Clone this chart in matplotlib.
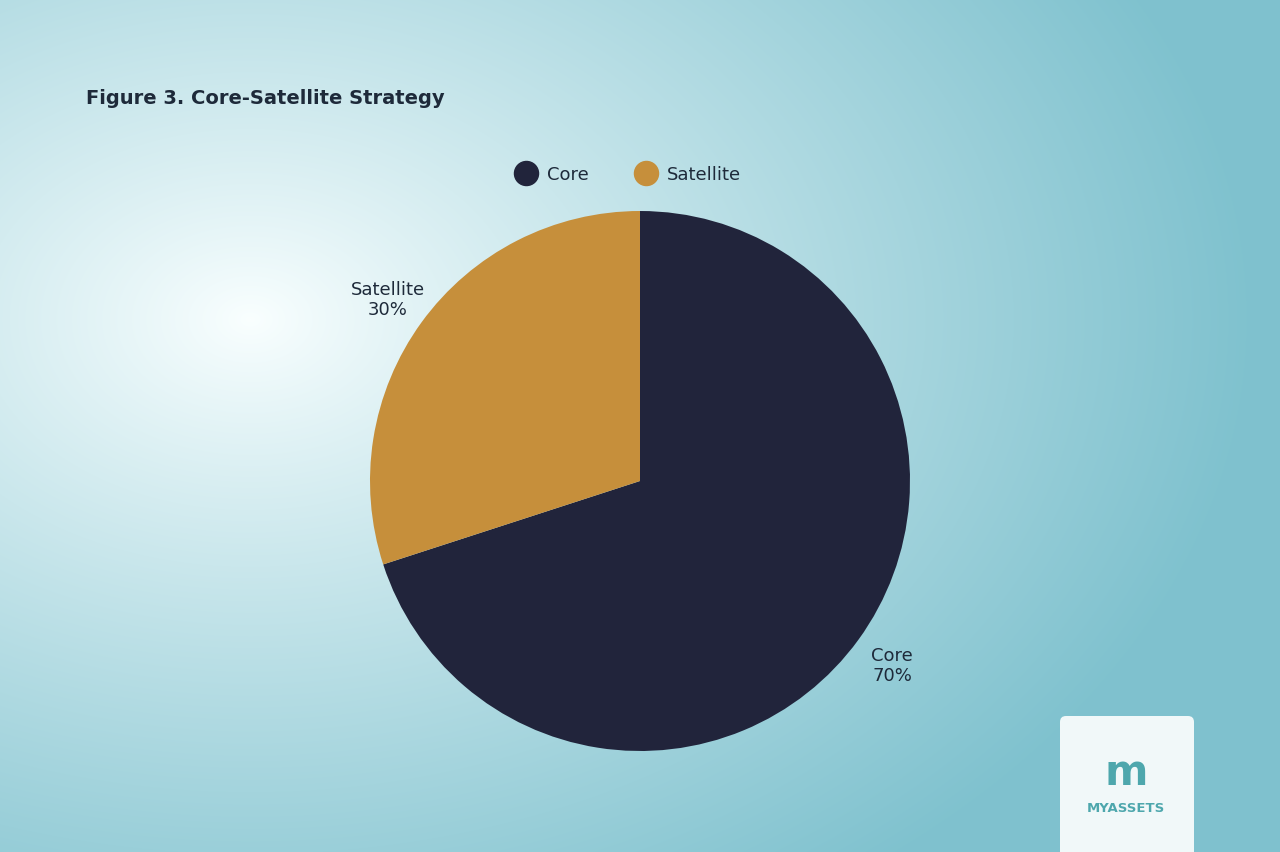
import numpy as np
import matplotlib.pyplot as plt
from matplotlib.patches import FancyBboxPatch

labels = ['Core', 'Satellite']
shares = [70, 30]
colors = ['#21243b', '#c68f3b']

W, H = 1280, 853
fig = plt.figure(figsize=(12.8, 8.53), dpi=100)

# background gradient: bright spot on left, teal towards right
bg = fig.add_axes([0, 0, 1, 1])
yy, xx = np.mgrid[0:H, 0:W]
d = np.sqrt(((xx - 250) / 1000.0) ** 2 + ((yy - 320) / 700.0) ** 2)
t = np.clip(d, 0, 1) ** 0.9
white = np.array([0.98, 1.0, 1.0])
teal = np.array([0.50, 0.76, 0.81])
img = white[None, None, :] * (1 - t[..., None]) + teal[None, None, :] * t[..., None]
bg.imshow(img, extent=[0, W, H, 0], aspect='auto')
bg.set_xlim(0, W)
bg.set_ylim(H, 0)
bg.axis('off')

fig.text(86 / W, 1 - 98 / H, 'Figure 3. Core-Satellite Strategy', fontsize=14,
         fontweight='bold', color='#1e2a3a', va='center')

# pie
r = 270
ax = fig.add_axes([(640 - r) / W, (H - 482 - r) / H, 2 * r / W, 2 * r / H])
ax.pie(shares, colors=colors, startangle=90, counterclock=False,
       radius=1.0, wedgeprops=dict(linewidth=0))
ax.set_xlim(-1, 1)
ax.set_ylim(-1, 1)
ax.set_aspect('auto')
ax.axis('off')

fig.text(892 / W, 1 - 666 / H, f'{labels[0]}\n{shares[0]}%', ha='center', va='center',
         fontsize=13, color='#1e2a3a', linespacing=1.1)
fig.text(388 / W, 1 - 300 / H, f'{labels[1]}\n{shares[1]}%', ha='center', va='center',
         fontsize=13, color='#1e2a3a', linespacing=1.1)

# legend
for x, lab, c in [(526, labels[0], colors[0]), (646, labels[1], colors[1])]:
    bg.scatter([x], [174], s=300, color=c, zorder=3)
    bg.text(x + 21, 175, lab, fontsize=13, color='#1e2a3a', va='center')

# logo box
bg.add_patch(FancyBboxPatch((1060, 717), 134, 145, boxstyle='round,pad=0,rounding_size=6',
                            facecolor='#f1f8f9', edgecolor='none'))
bg.text(1126, 773, 'm', fontsize=30, fontweight='bold', color='#4ea7ad', ha='center', va='center')
bg.text(1126, 809, 'MYASSETS', fontsize=9.5, fontweight='bold', color='#4ea7ad', ha='center', va='center')

fig.savefig('out.png', dpi=100)
